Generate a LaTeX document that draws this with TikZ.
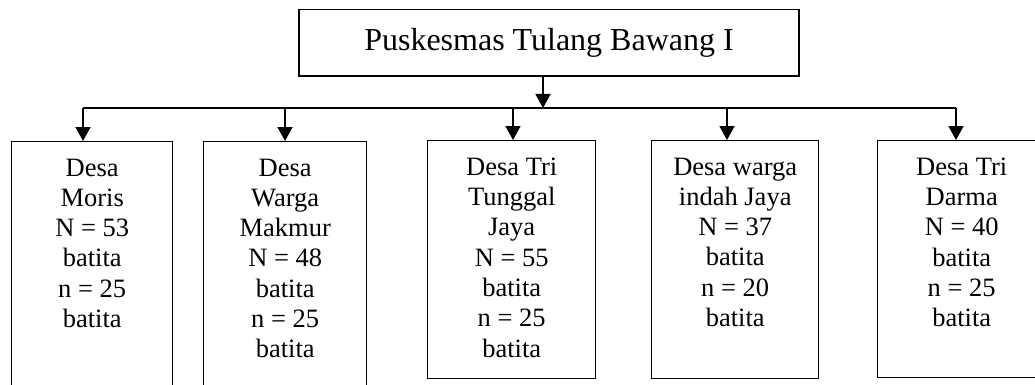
\documentclass[tikz,border=0pt]{standalone}
\usepackage{fontspec}
\setmainfont{Liberation Serif}
\usetikzlibrary{arrows.meta}
\begin{document}
\begin{tikzpicture}[x=1pt,y=-1pt,
  boxline/.style={draw=black,line width=1.4pt},
  desabox/.style={boxline,rectangle,inner sep=0pt,anchor=north west},
  desatext/.style={anchor=north,inner sep=0pt,align=center,font={\fontsize{26.5}{30.3}\selectfont}},
  conn/.style={line width=1.5pt,-{Triangle[length=14pt,width=15pt]}}]
\useasboundingbox (0,0) rectangle (1035,385);
% top box
\node[boxline,rectangle,minimum width=500pt,minimum height=66.5pt,inner sep=0pt,
  font={\fontsize{32}{36}\selectfont}] (top) at (549,42.75) {Puskesmas Tulang Bawang I};
% village boxes
\node[desabox,minimum width=161pt,minimum height=260pt] (b1) at (11,141) {};
\node[desabox,minimum width=163pt,minimum height=260pt] (b2) at (203,141) {};
\node[desabox,minimum width=168pt,minimum height=238pt] (b3) at (427,140) {};
\node[desabox,minimum width=167pt,minimum height=238pt] (b4) at (651,140) {};
\node[desabox,minimum width=170pt,minimum height=237pt] (b5) at (877,140) {};
% texts
\node[desatext] (t1) at ([yshift=-17.5pt]b1.north) {Desa\\Moris\\N = 53\\batita\\n = 25\\batita};
\node[desatext] (t2) at ([yshift=-17.5pt]b2.north) {Desa\\Warga\\Makmur\\N = 48\\batita\\n = 25\\batita};
\node[desatext] (t3) at ([yshift=-17.5pt]b3.north) {Desa Tri\\Tunggal\\Jaya\\N = 55\\batita\\n = 25\\batita};
\node[desatext] (t4) at ([yshift=-17.5pt]b4.north) {Desa warga\\indah Jaya\\N = 37\\batita\\n = 20\\batita};
\node[desatext] (t5) at ([xshift=-1pt,yshift=-17.5pt]b5.north) {Desa Tri\\Darma\\N = 40\\batita\\n = 25\\batita};
% bus
\coordinate (jc) at (543,108);
\coordinate (j1) at (83,108);
\coordinate (j2) at (285,108);
\coordinate (j3) at (513,108);
\coordinate (j4) at (727,108);
\coordinate (j5) at (956,108);
\draw[line width=1.4pt] (j1) -- (j5);
\draw[conn] (top.south -| jc) -- (jc);
\draw[conn] (j1) -- (j1 |- b1.north);
\draw[conn] (j2) -- (j2 |- b2.north);
\draw[conn] (j3) -- (j3 |- b3.north);
\draw[conn] (j4) -- (j4 |- b4.north);
\draw[conn] (j5) -- (j5 |- b5.north);
\end{tikzpicture}
\end{document}
